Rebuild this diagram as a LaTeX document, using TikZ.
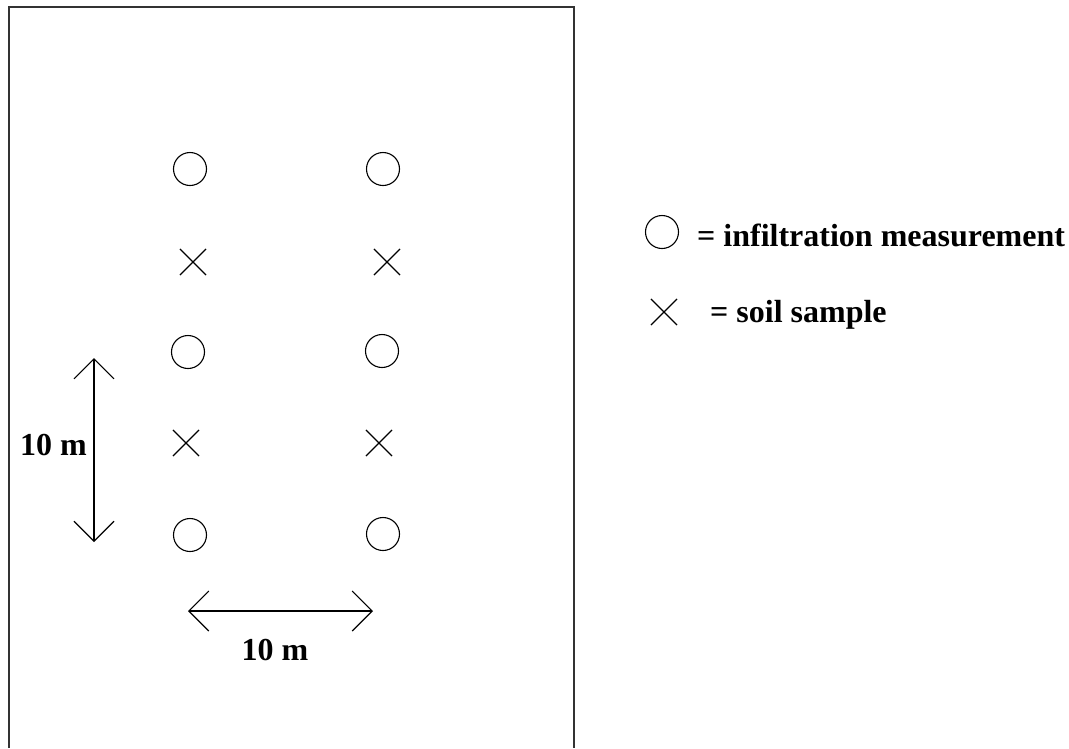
\documentclass[tikz,border=0pt]{standalone}
\usepackage{fontspec}
\setmainfont{Liberation Serif}
\usetikzlibrary{shapes.misc, arrows.meta}

\tikzset{
  meas/.style={draw, circle, minimum size=33pt, inner sep=0pt, line width=1.1pt},
  samp/.style={draw, cross out, minimum size=25pt, inner sep=0pt, line width=1.1pt},
  dim/.style={line width=1.1pt, {Straight Barb[length=20pt,width=40pt]}-{Straight Barb[length=20pt,width=40pt]}},
  lbl/.style={font=\fontsize{32}{38}\selectfont\bfseries, inner sep=0pt}
}

\begin{document}
\begin{tikzpicture}[x=1pt, y=-1pt]
\useasboundingbox (0,0) rectangle (1069,748);
% plot border
\draw[line width=1.6pt, color=black!80] (9,748) -- (9,7) -- (574,7) -- (574,748);
% measurement points
\node[meas] (c11) at (190,169) {};
\node[meas] (c12) at (383,169) {};
\node[samp] (x11) at (193,262) {};
\node[samp] (x12) at (387,262) {};
\node[meas] (c21) at (188,352) {};
\node[meas] (c22) at (382,351) {};
\node[samp] (x21) at (186,443) {};
\node[samp] (x22) at (379,443) {};
\node[meas] (c31) at (190,535) {};
\node[meas] (c32) at (383,534) {};
% 10 m distances
\coordinate (vtop) at (94,358);
\coordinate (vbot) at (94,542);
\coordinate (hleft) at (188,611);
\coordinate (hright) at (373,611);
\draw[dim] (vtop) -- (vbot);
\draw[dim] (hleft) -- (hright);
\node[lbl, anchor=base west] (vlab) at (20,455) {10 m};
\node[lbl, anchor=base] (hlab) at (275,660) {10 m};
% legend
\node[meas] (kc) at (662,232) {};
\node[lbl, anchor=base west] (kctext) at (697,246) {= infiltration measurement};
\node[samp] (kx) at (664,312) {};
\node[lbl, anchor=base west] (kxtext) at (710,322) {= soil sample};
\end{tikzpicture}
\end{document}
